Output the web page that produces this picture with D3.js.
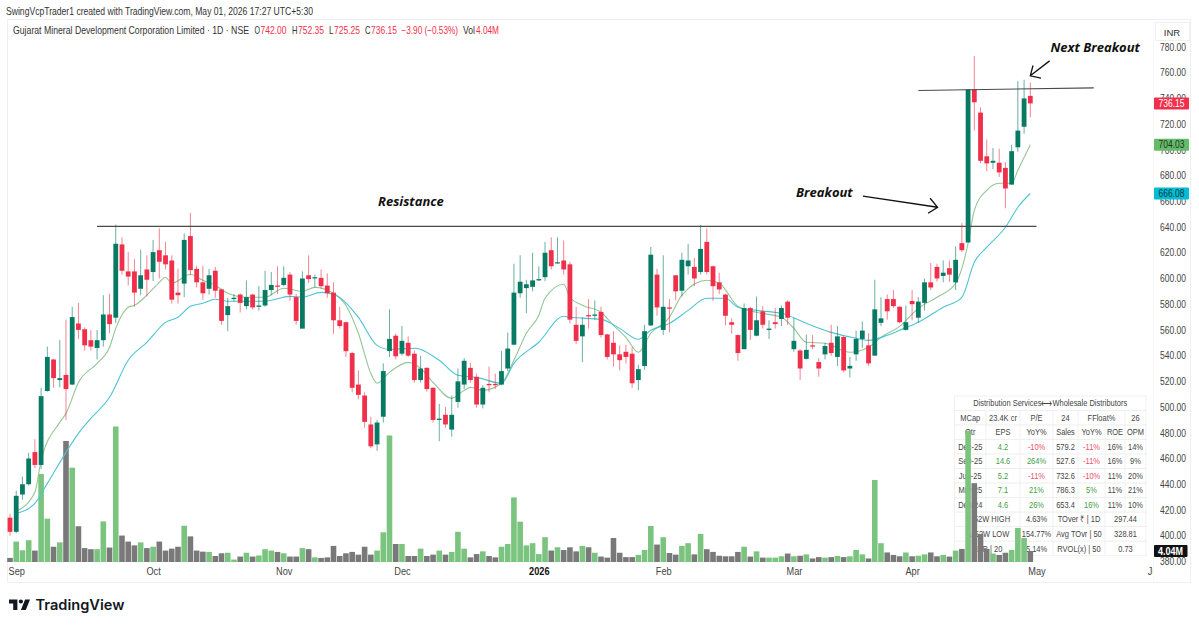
<!DOCTYPE html>
<html>
	<head>
		<meta charset="utf-8">
		<title>GMDC 1D</title>
		<script type="text/javascript" src="https://cdn.jsdelivr.net/npm/d3@7/dist/d3.min.js"></script>
		<style type="text/css">
	body {
		background:#fff;
		padding:0;
		margin:0;
	}
	svg text {
		font-family:'Liberation Sans', sans-serif;
	}
	.domain {
		display:none;
	}
		</style>
	</head>
	<body>
		<script type="text/javascript">
	// candles (Sep 2025 - May 2026)
	var opens = [414,403,432,440,465,455,512.5,537,521,525,
		517.5,565,560.5,552,546,552,572,569.5,626.5,605.5,
		605.5,592,607,605,622,618,614,589,596,633,
		607.5,597,592,606,591.5,571.5,584,587.5,578.5,587.5,
		578,579,591,594.5,595,603,585.5,561,602.5,600.5,
		600.5,594.5,589,567.5,566,542,517.5,509,486.5,471,
		492.5,543.5,555.5,541.5,550,541.5,521,530.5,515,490,
		494,482.5,504,517.5,530.5,523.5,502,518,518,517.5,
		530,548.5,588.5,592.5,593.5,598.5,601,622,612,614,
		611,564,555,571.5,571,574,556.5,550,541,543,
		541.5,521,532,563.5,603,560,577.5,602.5,590.5,609.5,
		609,605,628.5,609.5,597,587.5,566,556,545,577,
		555.5,574.5,560,566,568.5,582,545,544,537.5,548,
		535,541,550,539,554.5,530,541,553,548,540,
		565.5,584,584,578,560,582.5,569.5,581,597,609,
		602,608,597,627.5,628,747,729,695,690,690,
		686,673,702,718,742];
	var closes = [403,431,440,460,455,508.5,539,522.5,522.5,514,
		570,560,548,547,552,572,564.5,627,606,601.5,
		589,602.5,599,620.5,613,611,583.5,587,630,606.5,
		597,588.5,602.5,590.5,567,578.5,585,581,585.5,577.5,
		579,591,595,594,600.5,587.5,567,600,599.5,601,
		594,588.5,567.5,563,543.5,515,509.5,488.5,469.5,488,
		528,553,539.5,551.5,540,521,530,514,490,491,
		486.5,494,520,536,521,502,515,517,517,528,
		545.5,589,597.5,595.5,598.5,599.5,620,609.5,612.6,607,
		568,551.5,564,570.5,572,556,539,541,536.5,539,
		518.5,529.5,559,618.5,577.5,578,576.5,590,614.5,614,
		600,623,605,594,591.5,571,564,542,577,560,
		567.5,564,561,564.5,577,569.5,551.5,530,544.5,547,
		530,547.5,542,555,528.5,532,553,559.5,534,576,
		569,574.5,578.5,566,566,580,582,597,593,600,
		604.5,603,614.5,622,747,737,691.5,689.5,691.5,682.5,
		670,699,715,740,736.15];
	var highs = [417,435,446,464.5,475,515,547,537.5,552,568,
		578,581,562,560,560,587,588,642,632,620.5,
		615,622.5,618,630,639,628.5,618,607.5,635,651,
		610,610,607.5,609,592,585,588,588.5,598.5,588,
		594,606,605,609.5,609.5,605,588,605.5,618,603,
		607,604,597,578,566.5,543,528.5,511.5,492.5,490,
		534,576,557,563,555,544,540,531,515.5,502.5,
		500,509,530,538,534.5,526,517,531.5,526,543.5,
		558,611.5,618,599,620,609.5,628.5,632,632,629.5,
		613,578,570,584,583,578,557,559,548,548.5,
		546.5,533,564,624.5,607.5,618,584,602.5,620,627,
		616,641.5,639,610,604.5,588,569,556.5,580.5,578,
		586,578.5,567.5,577,579,583,569.5,545,556.5,556,
		538,550,564,563,555,539,559.5,566.5,557.5,599,
		585.5,587.5,591,578.5,579,591,585.5,600,612,611.5,
		614,614,625,643,747,773,733,708,701.5,701,
		690.5,704,753.5,754.5,752.35];
	var lows = [400,402,428,439,452.5,452,512,515,515.5,490,
		517,553,544,544,537,547,557.5,565.5,603,594.5,
		578,587,586,598,600,607,580.5,580.5,585.5,602.5,
		593,583.5,587.5,585,564,559,582,573.5,576,576,
		575,578,587,588,594,582.5,564,561,596.5,593,
		592,585,557,561,539,511.5,506,484,468,466,
		488,539,537,540,539,519,519,512,488,473.5,
		484,477,499.5,514,519,499.5,499,511.5,514,517,
		528,548,585,573,590,598,598,607,611.5,603,
		565,549,535,561,568,554,537,531.5,528.5,534,
		515,513,529,563,571,556,558,583,586,603,
		594,603,603,582.5,588,563.5,557,536,545,552,
		555,561,553,561,563,564,543,521,537,545,
		523.5,537,540,532,527,523,536,546,532,540,
		563,568,577,565,559.5,567.5,565.5,575,591,597.5,
		597,597.5,591,620.5,628,715,689.5,683.5,685,679,
		654.5,673,698.5,712.5,725.25];
	// volume in millions, 1 = green bar, 0 = grey bar
	var volumes = [1.5,7.5,4.3,8,4.2,32.3,15.9,5.6,7.2,44.4,
		34.6,13.1,5.1,4.7,4.7,14.9,5.3,49.7,9.7,7.5,
		6.1,7.2,5.1,5.6,7.5,4.2,4.9,5.6,13.3,9.4,
		4.2,3.8,3.7,2.2,3.2,3.4,0.9,2,3.4,2,
		2.4,4.7,4.2,3.7,3.2,2,2,5.1,4.7,1.7,
		1.5,1.7,5.9,2.2,3.2,3.7,2.7,5.6,2.7,4.2,
		10.9,46.4,6.6,6.6,2.2,2.2,4.9,2.2,2.7,4.2,
		2.7,3.7,11.1,4.9,1.7,2.9,3.9,2.2,1.7,5.6,
		6.6,23.7,14.8,6.1,6.9,2.9,9.1,4.2,5.4,4.4,
		5.4,3.9,5.9,5.4,3.4,2,1.6,8.8,3.4,1.8,
		1.8,2.6,4.4,13.2,6.4,9.1,3.3,2.7,5.9,6.9,
		2.8,10.3,4.7,3.7,2.3,2.1,2.1,3.7,5.6,2,
		3.9,1.6,1.6,1.6,2.1,3.1,2.1,2.3,2.8,1.3,
		1.8,1.6,1.8,2.2,1.8,2.1,4.4,2.8,1.3,30.1,
		6.9,3.5,2.6,2.1,3.5,2.1,2.3,2.8,3.5,2.1,
		2.6,2,4.2,4.8,48.2,28.9,10.3,4.8,3.1,2.6,
		3.4,4.4,12.5,8.8,4.04];
	var volUp = [0,1,1,1,0,1,1,0,1,0,
		1,0,0,0,1,1,0,1,0,0,
		0,1,0,1,0,0,0,0,1,0,
		0,0,1,0,0,1,1,0,1,0,
		1,1,1,0,1,0,0,1,0,1,
		0,0,0,0,0,0,0,0,0,1,
		1,1,0,1,0,0,1,0,0,1,
		0,1,1,1,0,0,1,0,0,1,
		1,1,1,1,1,1,1,0,1,0,
		0,0,1,0,1,0,0,0,0,0,
		0,1,1,1,0,1,0,0,1,1,
		0,1,0,0,0,0,0,0,1,0,
		1,0,1,1,1,0,1,0,1,0,
		0,1,0,1,0,1,1,1,0,1,
		1,0,0,0,1,0,1,1,0,0,
		1,0,1,0,1,0,0,0,1,0,
		0,1,1,1,0];

	// the two moving averages, read at the bars where they bend
	var fastBars = [1,4,5,8,9,11,14,16,17,19,20,22,24,25,26,29,31,33,35,38,41,44,47,49,52,54,56,58,59,61,64,66,68,71,73,74,76,79,81,83,85,86,89,90,92,95,97,99,101,103,106,108,112,114,117,120,124,126,128,131,135,138,140,143,146,149,152,153,154,155,157,159,161,162,164];
	var fastVals = [418.9,433.7,458.6,488.1,495.1,519.2,534,546.5,561.2,577.6,579.1,587,597,601,596.3,603.3,598.6,594.7,588.5,585.4,585.4,592.4,590,593.1,588.5,579,557.4,526.2,518.5,527,534.8,530.1,519.2,506.8,513,515.3,513,518.5,536.4,557.4,571.4,584.6,595.5,585.4,579.1,573.7,563.6,554.2,542.6,557.4,569.8,587,598.6,596.3,578.4,573.7,569.8,561.2,550.4,549.6,542.6,546.5,554.2,562.8,576.8,585.4,596.3,607.9,627.4,653,668.6,674,674,684.2,704.03];
	var slowBars = [1,4,6,9,11,13,16,19,22,25,27,29,31,33,35,38,41,45,47,50,52,56,59,61,65,69,72,75,79,81,85,89,90,95,98,101,103,106,109,112,115,117,120,124,128,132,136,138,141,143,146,150,153,155,157,160,162,164];
	var slowVals = [417.3,425.1,440.7,464.8,479.6,491.2,507.6,536.4,550.4,565.9,569.8,578.4,580.7,583.8,582.3,582.3,582.3,586.1,585.4,589.2,587.7,569.8,548,544.9,545.7,536.4,524.7,523.1,518.5,534,550.4,570.6,569.8,568.2,561.2,552.7,559.7,565.1,575.2,584.6,584.6,577.6,575.2,572.9,565.1,558.1,553.5,551.9,555.8,559.7,565.9,577.6,585.4,612.6,624.3,639.8,655.4,666.08];

	var priceTicks = [380,400,420,440,460,480,500,520,540,560,580,600,620,640,660,680,700,720,740,760,780];
	var timeBars = [1,23,44,63,85,105,126,145,165,184];
	var timeLabels = ["Sep","Oct","Nov","Dec","2026","Feb","Mar","Apr","May","Jun"];

	// fundamentals table
	var tableTitle = "Distribution Services\u27F7Wholesale Distributors";
	var tableTop = ["MCap","23.4K cr","P/E","24","FFloat%","26"];
	var tableHead = ["Qtr","EPS","YoY%","Sales","YoY%","ROE","OPM"];
	var tableQtrs = [
		["Dec-25","4.2","-10%","579.2","-11%","16%","14%"],
		["Sep-25","14.6","264%","527.6","-11%","16%","9%"],
		["Jun-25","5.2","-11%","732.6","-10%","11%","20%"],
		["Mar-25","7.1","21%","786.3","5%","11%","21%"],
		["Dec-24","4.6","26%","653.4","16%","11%","10%"]
	];
	var tableStats = [
		["\u25BC 52W HIGH","4.63%","TOver \u20B9 | 1D","297.44"],
		["\u25B2 52W LOW","154.77%","Avg TOvr | 50","328.81"],
		["ADR | 20","5.14%","RVOL(x) | 50","0.73"]
	];

	var upColor = "#087a63", downColor = "#f0304a";

	var vis = d3.select("body").append("svg").attr("width",1199).attr("height",626).style("display","block");

	var x = d3.scaleLinear().domain([0,164]).range([10,1030.3]);
	var y = d3.scaleLinear().domain([380,780]).range([561.4,47]);
	var yVol = d3.scaleLinear().domain([0,50]).range([562,425.7]);
	var bars = d3.range(opens.length);

	// the chart's own font is narrower than anything installed
	function squeeze(sel,f) {
		sel.each(function() {
			d3.select(this).attr("textLength",this.getComputedTextLength()*f).attr("lengthAdjust","spacingAndGlyphs");
		});
	}

	vis.append("text").attr("x",6).attr("y",15).attr("font-size",10.4).attr("fill","#333")
		.attr("textLength",307).attr("lengthAdjust","spacingAndGlyphs")
		.text("SwingVcpTrader1 created with TradingView.com, May 01, 2026 17:27 UTC+5:30");

	// frame
	vis.append("rect").attr("x",7.5).attr("y",19.5).attr("width",1183).attr("height",563)
		.attr("fill","none").attr("stroke","#f0f0f0");
	vis.append("line").attr("x1",1153.5).attr("x2",1153.5).attr("y1",20).attr("y2",582).attr("stroke","#f8f8f8");
	vis.append("rect").attr("x",1155.5).attr("y",22.5).attr("width",34).attr("height",18)
		.attr("fill","#fff").attr("stroke","#f0f0f0");
	vis.append("text").attr("x",1172).attr("y",35.5).attr("text-anchor","middle").attr("font-size",9.5).attr("fill","#333").text("INR");

	// legend line
	var legend = [
		[13,"Gujarat Mineral Development Corporation Limited \u00B7 1D \u00B7 NSE","#333",236],
		[254.5,"O","#333",5.5],[260.5,"742.00",downColor,26],
		[292,"H","#333",5.5],[298,"752.35",downColor,26],
		[329,"L","#333",4.5],[334,"725.25",downColor,26],
		[365,"C","#333",5.5],[371,"736.15",downColor,26],
		[401.5,"\u22123.90 (\u22120.53%)",downColor,56.5],
		[463,"Vol","#333",12],[476,"4.04M",downColor,23]
	];
	vis.selectAll("text.legend").data(legend).enter().append("text").attr("class","legend")
		.attr("x",function(d) { return d[0]; }).attr("y",34).attr("font-size",10.2)
		.attr("fill",function(d) { return d[2]; })
		.attr("textLength",function(d) { return d[3]; })
		.attr("lengthAdjust","spacingAndGlyphs")
		.text(function(d) { return d[1]; });

	// table sits under the volume bars
	var rowH = 14.52, tableY = 396;
	var colsTop = [954.5,986,1020,1053,1078,1125,1146];
	var colsQtr = [954.5,986,1020,1053,1078,1105,1125,1146];
	var colsStat = [954.5,1020,1053,1105,1146];
	var tbl = vis.append("g").attr("font-size",8.8);

	function tableRow(row,cols,cells,colorOf) {
		var top = tableY+row*rowH;
		tbl.append("rect").attr("x",cols[0]).attr("y",top).attr("width",cols[cols.length-1]-cols[0]).attr("height",rowH)
			.attr("fill","#fff").attr("stroke","#eeeeee").attr("stroke-width",0.8);
		cells.forEach(function(c,i) {
			if (i>0) tbl.append("line").attr("x1",cols[i]).attr("x2",cols[i]).attr("y1",top).attr("y2",top+rowH)
				.attr("stroke","#eeeeee").attr("stroke-width",0.8);
			tbl.append("text").attr("x",(cols[i]+cols[i+1])/2).attr("y",top+10.3).attr("text-anchor","middle")
				.attr("fill",colorOf ? colorOf(i,c) : "#444").text(c);
		});
	}
	tableRow(0,[954.5,1146],[tableTitle]);
	tableRow(1,colsTop,tableTop);
	tableRow(2,colsQtr,tableHead);
	tableQtrs.forEach(function(r,k) {
		tableRow(3+k,colsQtr,r,function(i,c) {
			if (i==1) return "#3f9e48";
			if (i==2 || i==4) return c.charAt(0)=="-" ? "#f0506a" : "#3f9e48";
			return "#444";
		});
	});
	tableStats.forEach(function(r,k) {
		tableRow(8+k,colsStat,r);
	});
	squeeze(tbl.selectAll("text"),0.85);

	// volume
	vis.append("g").selectAll("rect").data(bars).enter().append("rect")
		.attr("x",function(i) { return x(i)-2.8; })
		.attr("width",5.6)
		.attr("y",function(i) { return yVol(volumes[i]); })
		.attr("height",function(i) { return yVol(0)-yVol(volumes[i]); })
		.attr("fill",function(i) { return volUp[i] ? "#7bc47f" : "#797979"; });

	// moving averages
	var maLine = d3.line().curve(d3.curveMonotoneX);
	vis.append("path").attr("fill","none").attr("stroke","#95c596").attr("stroke-width",1.1)
		.attr("d",maLine(fastBars.map(function(b,k) { return [x(b),y(fastVals[k])]; })));
	vis.append("path").attr("fill","none").attr("stroke","#4cc4d4").attr("stroke-width",1.1)
		.attr("d",maLine(slowBars.map(function(b,k) { return [x(b),y(slowVals[k])]; })));

	// candles
	function candleColor(i) { return closes[i]>=opens[i] ? upColor : downColor; }
	var candle = vis.append("g").selectAll("g").data(bars).enter().append("g");
	candle.append("line")
		.attr("x1",function(i) { return x(i); }).attr("x2",function(i) { return x(i); })
		.attr("y1",function(i) { return y(highs[i]); }).attr("y2",function(i) { return y(lows[i]); })
		.attr("stroke",candleColor).attr("stroke-opacity",0.6).attr("stroke-width",1);
	candle.append("rect")
		.attr("x",function(i) { return x(i)-2.4; }).attr("width",4.8)
		.attr("y",function(i) { return y(Math.max(opens[i],closes[i])); })
		.attr("height",function(i) { return Math.max(1.2,Math.abs(y(opens[i])-y(closes[i]))); })
		.attr("fill",candleColor);

	// drawn lines and arrows, anchored on bar / price
	var trendLines = [
		[[14,640.5],[165,640.5]],
		[[146,746.2],[174.2,748.2]]
	];
	vis.selectAll("line.trend").data(trendLines).enter().append("line").attr("class","trend")
		.attr("x1",function(d) { return x(d[0][0]); }).attr("y1",function(d) { return y(d[0][1]); })
		.attr("x2",function(d) { return x(d[1][0]); }).attr("y2",function(d) { return y(d[1][1]); })
		.attr("stroke","#4a4a4a").attr("stroke-width",1.1);

	var arrows = [
		{from:[137.1,664], to:[149.1,655.4], barbs:[[-7.5,-9],[-9.5,6]]},
		{from:[167.1,769.2], to:[164,757.6], barbs:[[2.7,-10.3],[10.7,2.4]]}
	];
	arrows.forEach(function(a) {
		var tx = x(a.to[0]), ty = y(a.to[1]);
		vis.append("path").attr("fill","none").attr("stroke","#111").attr("stroke-width",1.3)
			.attr("d","M"+x(a.from[0])+","+y(a.from[1])+"L"+tx+","+ty
				+"M"+(tx+a.barbs[0][0])+","+(ty+a.barbs[0][1])+"L"+tx+","+ty+"L"+(tx+a.barbs[1][0])+","+(ty+a.barbs[1][1]));
	});

	var notes = [[378,205.5,"Resistance"],[796,196.5,"Breakout"],[1050.5,51.5,"Next Breakout"]];
	vis.selectAll("text.note").data(notes).enter().append("text").attr("class","note")
		.attr("x",function(d) { return d[0]; }).attr("y",function(d) { return d[1]; })
		.attr("font-size",13).attr("font-weight","bold").attr("font-style","italic")
		.attr("fill","#111")
		.style("font-family","'Open Sans', sans-serif").text(function(d) { return d[2]; });

	// axes
	var priceAxis = d3.axisRight(y).tickValues(priceTicks).tickSize(0).tickPadding(0)
		.tickFormat(function(d) { return d3.format(".2f")(d); });
	var priceG = vis.append("g").attr("transform","translate(1160,0)").call(priceAxis);
	priceG.selectAll("text").attr("font-size",10).attr("fill","#444").style("font-family","'Liberation Sans', sans-serif")
		.attr("textLength",26).attr("lengthAdjust","spacingAndGlyphs");

	vis.append("clipPath").attr("id","paneClip").append("rect").attr("x",0).attr("y",-10).attr("width",1153).attr("height",25);
	var timeAxis = d3.axisBottom(x).tickValues(timeBars).tickSize(0).tickPadding(0)
		.tickFormat(function(d,i) { return timeLabels[i]; });
	var timeG = vis.append("g").attr("transform","translate(0,567.5)").attr("clip-path","url(#paneClip)").call(timeAxis);
	timeG.selectAll("text").attr("font-size",10)
		.style("font-family","'Liberation Sans', sans-serif")
		.attr("font-weight",function(d,i) { return timeLabels[i]=="2026" ? "bold" : "normal"; })
		.attr("fill",function(d,i) { return timeLabels[i]=="2026" ? "#111" : "#444"; });
	squeeze(timeG.selectAll("text"),0.92);

	// last value tags
	var tags = [
		[736.15,"736.15",downColor,"#fff",y],
		[704.03,"704.03","#66bb6a","#1c3a1e",y],
		[666.08,"666.08","#00bcd4","#0b3a42",y],
		[4.04,"4.04M","#111","#fff",yVol]
	];
	tags.forEach(function(t) {
		var cy = t[0]==4.04 ? 551 : t[4](t[0]);
		vis.append("rect").attr("x",1154).attr("y",cy-6).attr("width",t[0]==4.04 ? 33.5 : 35).attr("height",12).attr("rx",1).attr("fill",t[2]);
		vis.append("text").attr("x",t[0]==4.04 ? 1170.5 : 1171.5).attr("y",cy+3.6).attr("text-anchor","middle").attr("font-size",10)
			.attr("font-weight",t[0]==4.04 ? "bold" : "normal").attr("fill",t[3])
			.attr("textLength",t[0]==4.04 ? 25 : 26).attr("lengthAdjust","spacingAndGlyphs").text(t[1]);
	});

	// footer logo
	vis.append("path").attr("transform","translate(7.6,595.2) scale(0.7)").attr("fill","#131722")
		.attr("d","M14 6H2v6h6v9h6V6Zm12 15h-7l6-15h7l-6 15Zm-7-9a3 3 0 1 0 0-6 3 3 0 0 0 0 6Z");
	vis.append("text").attr("x",35.5).attr("y",610).attr("font-size",14.6).attr("font-weight",600).attr("fill","#131722")
		.style("font-family","Inter, sans-serif").text("TradingView");
		</script>
	</body>
</html>
